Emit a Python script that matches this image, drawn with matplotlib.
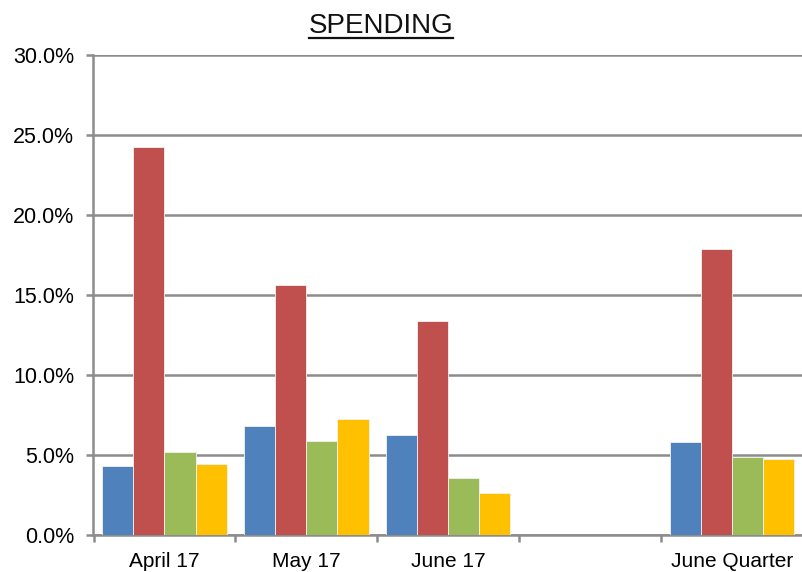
import numpy as np
import matplotlib
matplotlib.use('Agg')
import matplotlib.pyplot as plt
import matplotlib.ticker as ticker
from matplotlib.lines import Line2D

plt.rcParams['font.family'] = ['Liberation Sans', 'DejaVu Sans']

# Data (percent)
categories = ['April 17', 'May 17', 'June 17', '', 'June Quarter']
blue_vals = [4.3, 6.83, 6.26, np.nan, 5.82]
red_vals = [24.25, 15.6, 13.35, np.nan, 17.9]
green_vals = [5.2, 5.88, 3.57, np.nan, 4.88]
yellow_vals = [4.45, 7.26, 2.62, np.nan, 4.77]
y_ticks = [0, 5, 10, 15, 20, 25, 30]

COLORS = ['#4F81BD', '#C0504D', '#9BBB59', '#FFC000']
GRID = '#8C8C8C'

W, H = 803, 572
fig = plt.figure(figsize=(W / 100, H / 100), dpi=100)
ax = fig.add_axes([93.5 / W, 37 / H, (W - 93.5) / W, 480 / H])

x = np.arange(len(categories))
bw = 0.219
series = [blue_vals, red_vals, green_vals, yellow_vals]
for i, (vals, c) in enumerate(zip(series, COLORS)):
    ax.bar(x + (i - 1.5) * bw, vals, width=bw, color=c,
           edgecolor='#F2F2F2', linewidth=0.6, zorder=3)

ax.set_xlim(-0.5, 4.47)
ax.set_ylim(0, 30)

ax.set_yticks(y_ticks)
ax.yaxis.set_major_formatter(ticker.FuncFormatter(lambda v, p: f'{v:.1f}%'))
ax.yaxis.grid(True, color=GRID, linewidth=1.8, zorder=0)
ax.set_axisbelow(True)

ax.set_xticks(x)
ax.set_xticklabels(categories)
ax.set_xticks(np.arange(len(categories) + 1) - 0.5, minor=True)
ax.tick_params(axis='x', which='major', length=0, pad=12, labelsize=15)
ax.tick_params(axis='x', which='minor', length=5, width=1.8, color=GRID)
ax.tick_params(axis='y', length=5, width=1.8, color=GRID, pad=9, labelsize=15.5)

for s in ['top', 'right']:
    ax.spines[s].set_visible(False)
for s in ['left', 'bottom']:
    ax.spines[s].set_color(GRID)
    ax.spines[s].set_linewidth(1.8)

# Underlined title
title = fig.text(381 / W, 1 - 33 / H, 'SPENDING', ha='center', va='baseline',
                 fontsize=20, color='#111111')
fig.canvas.draw()
bb = title.get_window_extent(renderer=fig.canvas.get_renderer())
uy = 1 - 38 / H
fig.add_artist(Line2D([bb.x0 / W, bb.x1 / W], [uy, uy], color='#111111',
                      linewidth=1.6, transform=fig.transFigure))

fig.savefig('out.png', dpi=100, facecolor='white')
